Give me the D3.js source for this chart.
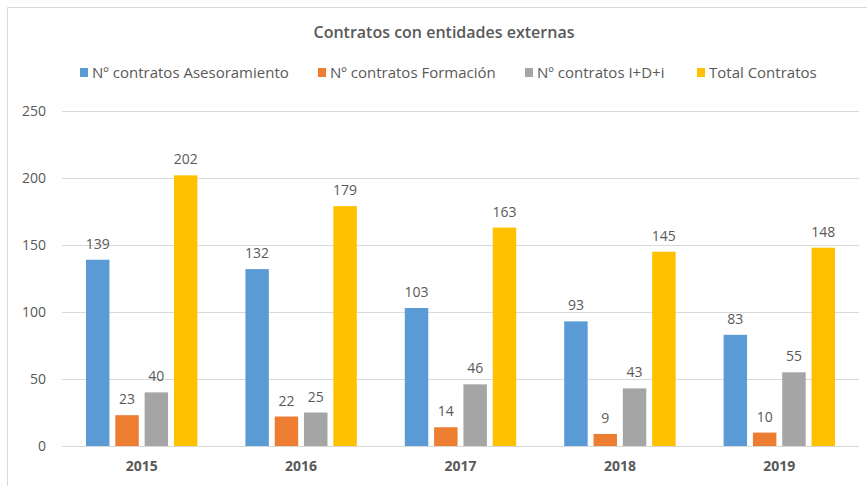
<!DOCTYPE html>
<html>
<head>
<meta charset="utf-8">
<script src="https://cdn.jsdelivr.net/npm/d3@7"></script>
<style>
  body { margin: 0; background: #fff; }
  text { font-family: "Open Sans", "Noto Sans", sans-serif; fill: #595959; }
</style>
</head>
<body>
<div id="chart"></div>
<script>
var years = ["2015", "2016", "2017", "2018", "2019"];
var seriesNames = ["Nº contratos Asesoramiento", "Nº contratos Formación", "Nº contratos I+D+i", "Total Contratos"];
var asesoramiento = [139, 132, 103, 93, 83];
var formacion = [23, 22, 14, 9, 10];
var idi = [40, 25, 46, 43, 55];
var total = [202, 179, 163, 145, 148];
var yTicks = [0, 50, 100, 150, 200, 250];
var colors = ["#5B9BD5", "#ED7D31", "#A5A5A5", "#FFC000"];

var seriesValues = [asesoramiento, formacion, idi, total];

var width = 867, height = 486;
var margin = { top: 111, right: 8, bottom: 40, left: 62 };

var svg = d3.select("#chart")
  .append("svg")
  .attr("width", width)
  .attr("height", height);

// chart border
svg.append("path")
  .attr("d", "M7.5," + height + " V7.5 H" + width)
  .attr("fill", "none")
  .attr("stroke", "#d9d9d9")
  .attr("stroke-width", 1);

// title
svg.append("text")
  .attr("x", 444)
  .attr("y", 38)
  .attr("text-anchor", "middle")
  .style("font-size", "16px")
  .style("font-weight", "600")
  .text("Contratos con entidades externas");

// scales
var x0 = d3.scaleBand()
  .domain(years)
  .range([margin.left, width - margin.right]);

var x1 = d3.scaleBand()
  .domain(d3.range(seriesNames.length))
  .range([24, x0.bandwidth() - 24])
  .paddingInner(0.2);

var y = d3.scaleLinear()
  .domain([0, 250])
  .range([446, margin.top]);

// gridlines
svg.append("g")
  .selectAll("line")
  .data(yTicks)
  .enter()
  .append("line")
  .attr("x1", margin.left)
  .attr("x2", width - margin.right)
  .attr("y1", d => Math.round(y(d)) + 0.5)
  .attr("y2", d => Math.round(y(d)) + 0.5)
  .attr("stroke", "#d9d9d9");

// Y axis labels
var yAxis = svg.append("g")
  .attr("transform", "translate(" + margin.left + ",0)")
  .call(d3.axisLeft(y).tickValues(yTicks).tickSize(0).tickPadding(16));
yAxis.select(".domain").remove();
yAxis.selectAll("text")
  .style("font-size", "14px")
  .style("font-family", "\"Open Sans\", sans-serif")
  .attr("fill", "#595959");

// X axis labels
var xAxis = svg.append("g")
  .attr("transform", "translate(0," + y(0) + ")")
  .call(d3.axisBottom(x0).tickSize(0).tickPadding(15));
xAxis.select(".domain").remove();
xAxis.selectAll("text")
  .style("font-size", "14px")
  .style("font-weight", "bold")
  .style("font-family", "\"Open Sans\", sans-serif")
  .attr("fill", "#595959");

// bars
var groups = svg.append("g")
  .selectAll("g")
  .data(years)
  .enter()
  .append("g")
  .attr("transform", d => "translate(" + x0(d) + ",0)");

groups.selectAll("rect")
  .data((d, i) => seriesValues.map((s, k) => ({ k: k, v: s[i] })))
  .enter()
  .append("rect")
  .attr("x", d => x1(d.k))
  .attr("width", x1.bandwidth())
  .attr("y", d => y(d.v))
  .attr("height", d => y(0) - y(d.v))
  .attr("fill", d => colors[d.k]);

groups.selectAll("text.lbl")
  .data((d, i) => seriesValues.map((s, k) => ({ k: k, v: s[i] })))
  .enter()
  .append("text")
  .attr("class", "lbl")
  .attr("x", d => x1(d.k) + x1.bandwidth() / 2)
  .attr("y", d => y(d.v) - 11)
  .attr("text-anchor", "middle")
  .style("font-size", "14px")
  .text(d => d.v);

// legend
var legendX = [80, 318, 525, 697];
var legend = svg.append("g")
  .selectAll("g")
  .data(seriesNames)
  .enter()
  .append("g")
  .attr("transform", (d, i) => "translate(" + legendX[i] + ",73)");

legend.append("rect")
  .attr("x", 0)
  .attr("y", -5)
  .attr("width", 8)
  .attr("height", 9)
  .attr("fill", (d, i) => colors[i]);

legend.append("text")
  .attr("x", 12)
  .attr("y", 0)
  .attr("dy", "0.35em")
  .style("font-size", "15px")
  .text(d => d);
</script>
</body>
</html>
